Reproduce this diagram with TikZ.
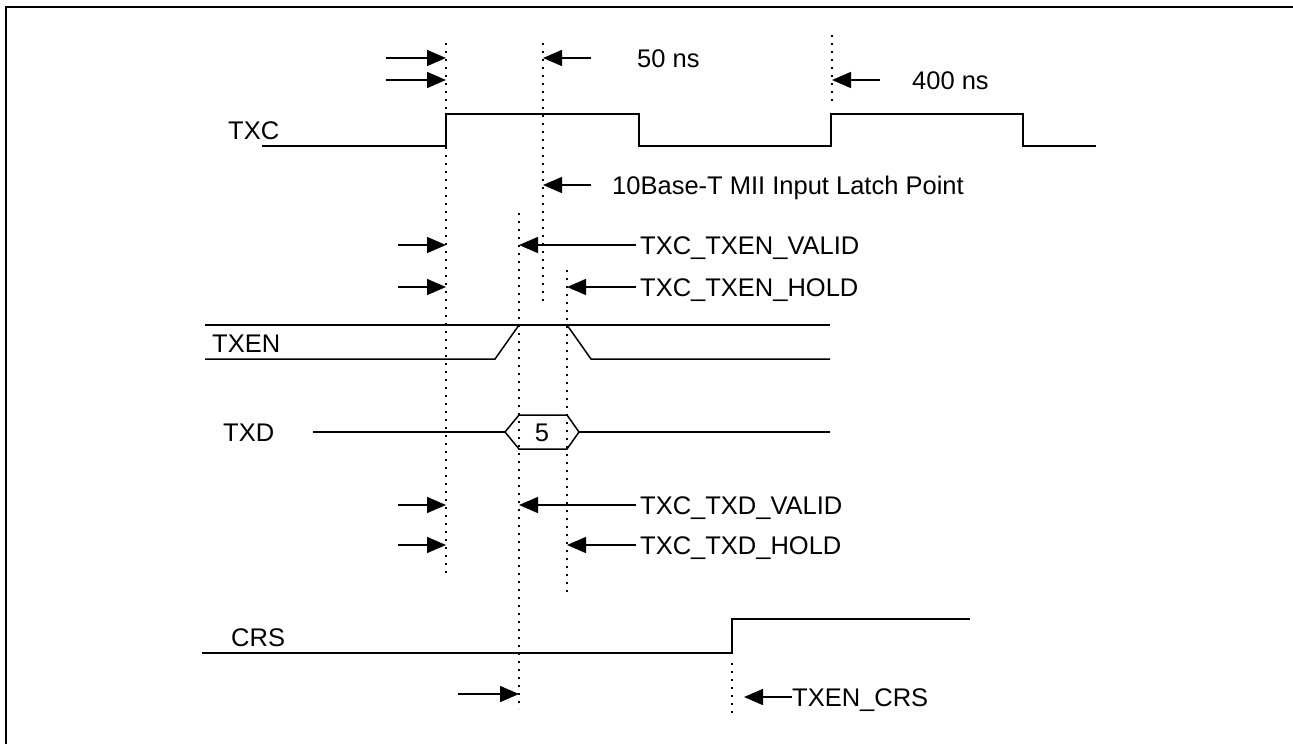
\documentclass[tikz,border=0pt]{standalone}
\usepackage{fontspec}
\setmainfont{Liberation Sans}
\usetikzlibrary{arrows.meta}
\begin{document}
\begin{tikzpicture}[x=1pt,y=-1pt,
  wave/.style={line width=1.5pt,line join=miter},
  guide/.style={line width=2pt,dash pattern=on 2pt off 6pt},
  arr/.style={line width=1.5pt,-{Triangle[length=19pt,width=16pt]}},
  lbl/.style={anchor=west,inner sep=0pt,font=\fontsize{25.5}{30}\selectfont,text height=18pt,text depth=0pt},
  tag/.style={lbl,inner xsep=4pt}]
\useasboundingbox (0,0) rectangle (1293,744);
% frame
\draw[line width=2.2pt] (6,744) -- (6,7) -- (1293,7);

% guide lines
\coordinate (A1) at (446,43);  \coordinate (A2) at (446,575);
\coordinate (B1) at (543,43);  \coordinate (B2) at (543,305);
\coordinate (C1) at (832,35);  \coordinate (C2) at (832,103);
\coordinate (D1) at (519,213); \coordinate (D2) at (519,709);
\coordinate (E1) at (567,270); \coordinate (E2) at (567,595);
\coordinate (F1) at (732,663); \coordinate (F2) at (732,718);
\draw[guide] (A1) -- (A2);
\draw[guide] (B1) -- (B2);
\draw[guide] (C1) -- (C2);
\draw[guide] (D1) -- (D2);
\draw[guide] (E1) -- (E2);
\draw[guide] (F1) -- (F2);

% signal names
\node[lbl] (txc) at (228,130) {TXC};
\node[lbl] (txen) at (212,343) {TXEN};
\node[lbl] (txd) at (223,432) {TXD};
\node[lbl] (crs) at (231,637) {CRS};

% TXC
\draw[wave] (262,146) -- (446,146) -- (446,114) -- (639,114) -- (639,146) -- (831,146) -- (831,114) -- (1023,114) -- (1023,146) -- (1096,146);
% TXEN
\draw[wave] (205,325) -- (830,325);
\draw[wave] (205,359) -- (495,359) -- (519,325);
\draw[wave] (567,325) -- (591,359) -- (830,359);
% TXD
\draw[wave] (313,432) -- (505,432);
\draw[wave] (505,432) -- (519,415) -- (567,415) -- (579,432) -- (567,449) -- (519,449) -- cycle;
\draw[wave] (579,432) -- (830,432);
\node[lbl,anchor=center] (five) at (542,432) {5};
% CRS
\draw[wave] (202,653) -- (732,653) -- (732,619) -- (970,619);

% labels with arrows
\node[tag] (t50) at (633,58) {50 ns};
\node[tag] (t400) at (908,80) {400 ns};
\node[tag] (tlatch) at (608,185) {10Base-T MII Input Latch Point};
\node[tag] (tenv) at (636,245) {TXC\_TXEN\_VALID};
\node[tag] (tenh) at (636,287) {TXC\_TXEN\_HOLD};
\node[tag] (tdv) at (636,505) {TXC\_TXD\_VALID};
\node[tag] (tdh) at (636,545) {TXC\_TXD\_HOLD};
\node[lbl] (tcrs) at (792,697) {TXEN\_CRS};

\coordinate (r50) at (591,58);
\coordinate (r400) at (880,80);
\coordinate (rlatch) at (591,185);
\coordinate (rcrs) at (744,697);
\draw[arr] (r50) -- (r50 -| B1);
\draw[arr] (r400) -- (r400 -| C1);
\draw[arr] (rlatch) -- (rlatch -| B1);
\draw[arr] (tenv.west) -- (tenv.west -| D1);
\draw[arr] (tenh.west) -- (tenh.west -| E1);
\draw[arr] (tdv.west) -- (tdv.west -| D1);
\draw[arr] (tdh.west) -- (tdh.west -| E1);
\draw[arr] (tcrs.west) -- (rcrs);

% left-side arrows
\coordinate (l1) at (386,58);
\coordinate (l2) at (386,80);
\coordinate (l3) at (398,245);
\coordinate (l4) at (398,287);
\coordinate (l5) at (398,505);
\coordinate (l6) at (398,545);
\coordinate (l7) at (458,694);
\draw[arr] (l1) -- (l1 -| A1);
\draw[arr] (l2) -- (l2 -| A1);
\draw[arr] (l3) -- (l3 -| A1);
\draw[arr] (l4) -- (l4 -| A1);
\draw[arr] (l5) -- (l5 -| A1);
\draw[arr] (l6) -- (l6 -| A1);
\draw[arr] (l7) -- (l7 -| D1);
\end{tikzpicture}
\end{document}
